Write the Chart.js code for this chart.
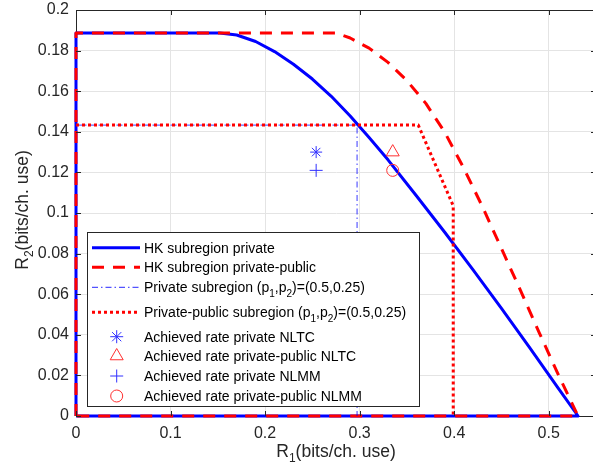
<!DOCTYPE html>
<html>
<head>
<meta charset="utf-8">
<script src="https://cdn.jsdelivr.net/npm/chart.js@4/dist/chart.umd.min.js"></script>
<style>
  html, body { margin: 0; padding: 0; background: #fff; overflow: hidden; }
  #wrap { position: relative; width: 593px; height: 470px; overflow: hidden; }
  #rateChart { display: block; }
</style>
</head>
<body>
<div id="wrap"><canvas id="rateChart" width="600" height="470"></canvas></div>
<script>
// HK rate region boundaries (R1, R2) in bits/channel use
const hkPrivR1 = [0, 0, 0.152, 0.17, 0.19, 0.21, 0.23, 0.25, 0.27, 0.29, 0.31, 0.33, 0.36, 0.39, 0.42, 0.45, 0.48, 0.51, 0.531, 0];
const hkPrivR2 = [0, 0.1887, 0.1887, 0.1877, 0.1845, 0.1795, 0.1733, 0.166, 0.1575, 0.1478, 0.1372, 0.1262, 0.1085, 0.0905, 0.072, 0.053, 0.0335, 0.0137, 0, 0];

const hkPubR1 = [0, 0, 0.275, 0.29, 0.31, 0.33, 0.35, 0.37, 0.39, 0.41, 0.43, 0.45, 0.47, 0.49, 0.51, 0.531, 0];
const hkPubR2 = [0, 0.1887, 0.1887, 0.1862, 0.1812, 0.1742, 0.1652, 0.154, 0.1398, 0.1222, 0.103, 0.0825, 0.062, 0.041, 0.0205, 0, 0];

// fixed power split (p1,p2) = (0.5,0.25)
const subPrivR1 = [0, 0.2973, 0.2973];
const subPrivR2 = [0.1433, 0.1433, 0];

const subPubR1 = [0, 0.362, 0.399, 0.399];
const subPubR2 = [0.1433, 0.1433, 0.1035, 0];

// achieved rates
const nltcPrivate = [0.254, 0.130];
const nltcPublic = [0.335, 0.130];
const nlmmPrivate = [0.254, 0.121];
const nlmmPublic = [0.335, 0.121];

const xTicks = [0, 0.1, 0.2, 0.3, 0.4, 0.5];
const yTicks = [0, 0.02, 0.04, 0.06, 0.08, 0.1, 0.12, 0.14, 0.16, 0.18, 0.2];

const FONT = 'Liberation Sans, Arial, Helvetica, sans-serif';
const AXIS = '#262626';

function toPoints(xs, ys) {
  return xs.map((x, i) => ({ x: x, y: ys[i] }));
}

function lineSet(label, xs, ys, color, width, dash, order) {
  return {
    label: label,
    data: toPoints(xs, ys),
    showLine: true,
    borderColor: color,
    borderWidth: width,
    borderDash: dash,
    borderCapStyle: 'butt',
    borderJoinStyle: 'round',
    pointRadius: 0,
    fill: false,
    tension: 0,
    clip: 6,
    order: order
  };
}

function markerSet(label, pt, style, color, radius) {
  return {
    label: label,
    data: [{ x: pt[0], y: pt[1] }],
    showLine: false,
    pointStyle: style,
    pointRadius: radius,
    pointBorderColor: color,
    pointBackgroundColor: 'rgba(0,0,0,0)',
    pointBorderWidth: 1,
    order: 0
  };
}

// legend rows: text pieces, [string, isSubscript]
const legendRows = [
  { kind: 'line', color: '#0000ff', width: 3, dash: [], y: 247.7, text: [['HK subregion private', false]] },
  { kind: 'line', color: '#ff0000', width: 3, dash: [12, 9], y: 267.3, text: [['HK subregion private-public', false]] },
  { kind: 'line', color: 'rgba(0,0,255,0.85)', width: 1, dash: [6, 3, 1.5, 3], y: 287.3,
    text: [['Private subregion (p', false], ['1', true], [',p', false], ['2', true], [')=(0.5,0.25)', false]] },
  { kind: 'line', color: '#ff0000', width: 3, dash: [3, 3], y: 312.3,
    text: [['Private-public subregion (p', false], ['1', true], [',p', false], ['2', true], [')=(0.5,0.25)', false]] },
  { kind: 'star', color: '#3030ff', y: 336.7, text: [['Achieved rate private NLTC', false]] },
  { kind: 'triangle', color: '#ff3030', y: 356, text: [['Achieved rate private-public NLTC', false]] },
  { kind: 'cross', color: '#3030ff', y: 376, text: [['Achieved rate private NLMM', false]] },
  { kind: 'circle', color: '#ff3030', y: 396, text: [['Achieved rate private-public NLMM', false]] }
];

// draws text with subscript pieces starting at x, returns its width
function drawRich(ctx, parts, x, y, size, measureOnly) {
  let cx = x;
  parts.forEach(([str, sub]) => {
    const fs = sub ? Math.round(size * 0.7) : size;
    ctx.font = fs + 'px ' + FONT;
    if (!measureOnly) ctx.fillText(str, cx, sub ? y + size * 0.3 : y);
    cx += ctx.measureText(str).width;
  });
  return cx - x;
}

const framePlugin = {
  id: 'frame',
  afterDatasetsDraw(chart) {
    const ctx = chart.ctx;
    const a = chart.chartArea;
    const xs = chart.scales.x, ys = chart.scales.y;
    ctx.save();
    ctx.strokeStyle = AXIS;
    ctx.lineWidth = 1;
    ctx.beginPath();
    ctx.moveTo(a.left, a.top + 0.5);
    ctx.lineTo(a.right, a.top + 0.5);
    ctx.moveTo(a.right - 0.5, a.top);
    ctx.lineTo(a.right - 0.5, a.bottom);
    // inward tick marks
    xTicks.forEach(v => {
      const px = Math.round(xs.getPixelForValue(v)) + 0.5;
      ctx.moveTo(px, a.bottom); ctx.lineTo(px, a.bottom - 5);
      ctx.moveTo(px, a.top); ctx.lineTo(px, a.top + 5);
    });
    yTicks.forEach(v => {
      const py = Math.round(ys.getPixelForValue(v)) + 0.5;
      ctx.moveTo(a.left, py); ctx.lineTo(a.left + 5, py);
      ctx.moveTo(a.right, py); ctx.lineTo(a.right - 5, py);
    });
    ctx.stroke();

    // legend box
    const bx = 87.5, by = 232.5, bw = 332, bh = 174;
    ctx.fillStyle = '#ffffff';
    ctx.fillRect(bx, by, bw, bh);
    ctx.strokeStyle = AXIS;
    ctx.strokeRect(bx, by, bw, bh);
    legendRows.forEach(row => {
      ctx.save();
      if (row.kind === 'line') {
        ctx.strokeStyle = row.color;
        ctx.lineWidth = row.width;
        ctx.setLineDash(row.dash);
        ctx.beginPath();
        ctx.moveTo(92, row.y);
        ctx.lineTo(140, row.y);
        ctx.stroke();
      } else {
        const r = row.kind === 'triangle' ? 7.5 : (row.kind === 'circle' ? 6 : 6.5);
        ctx.strokeStyle = row.color;
        ctx.fillStyle = 'rgba(0,0,0,0)';
        ctx.lineWidth = 1;
        Chart.helpers.drawPoint(ctx, { pointStyle: row.kind, radius: r, borderWidth: 1, rotation: 0 }, 116.7, row.y);
      }
      ctx.restore();
      ctx.fillStyle = '#000000';
      ctx.textBaseline = 'alphabetic';
      ctx.textAlign = 'left';
      drawRich(ctx, row.text, 144, row.y + 5, 14);
    });

    // axis titles with subscripts
    ctx.fillStyle = AXIS;
    const xt = [['R', false], ['1', true], ['(bits/ch. use)', false]];
    const xw = drawRich(ctx, xt, 0, 0, 17.5, true);
    drawRich(ctx, xt, 336 - xw / 2, 457, 17.5);
    const yt = [['R', false], ['2', true], ['(bits/ch. use)', false]];
    const yw = drawRich(ctx, yt, 0, 0, 17.5, true);
    ctx.translate(28, 210);
    ctx.rotate(-Math.PI / 2);
    drawRich(ctx, yt, -yw / 2, 0, 17.5);
    ctx.restore();
  }
};

const datasets = [
  lineSet('HK subregion private', hkPrivR1, hkPrivR2, '#0000ff', 3, [], 4),
  lineSet('HK subregion private-public', hkPubR1, hkPubR2, '#ff0000', 3, [12, 9], 3),
  lineSet('Private subregion', subPrivR1, subPrivR2, 'rgba(0,0,255,0.6)', 1.3, [6, 3, 1.5, 3], 2),
  lineSet('Private-public subregion', subPubR1, subPubR2, '#ff0000', 3, [3, 3], 1),
  markerSet('Achieved rate private NLTC', nltcPrivate, 'star', '#3030ff', 6),
  markerSet('Achieved rate private-public NLTC', nltcPublic, 'triangle', '#ff3030', 7.5),
  markerSet('Achieved rate private NLMM', nlmmPrivate, 'cross', '#3030ff', 6.5),
  markerSet('Achieved rate private-public NLMM', nlmmPublic, 'circle', '#ff3030', 6)
];

// plot box: x 76..596 (right edge just past the visible 593px), y 10..416
new Chart(document.getElementById('rateChart'), {
  type: 'scatter',
  data: { datasets: datasets },
  options: {
    responsive: false,
    animation: false,
    layout: { autoPadding: false, padding: { top: 10, right: 4, left: 0, bottom: 0 } },
    plugins: { legend: { display: false }, tooltip: { enabled: false } },
    scales: {
      x: {
        type: 'linear',
        min: 0,
        max: 0.55,
        afterBuildTicks: s => { s.ticks = xTicks.map(v => ({ value: v })); },
        afterFit: s => { s.height = 54; s.paddingLeft = 0; s.paddingRight = 0; },
        grid: { color: '#e4e4e4', lineWidth: 1, drawTicks: false },
        border: { color: AXIS, width: 1 },
        ticks: {
          color: AXIS,
          padding: 8,
          maxRotation: 0,
          font: { family: FONT, size: 16 },
          callback: v => String(+v.toFixed(3))
        }
      },
      y: {
        type: 'linear',
        min: 0,
        max: 0.2,
        afterBuildTicks: s => { s.ticks = yTicks.map(v => ({ value: v })); },
        afterFit: s => { s.width = 76; s.paddingTop = 0; s.paddingBottom = 0; },
        grid: { color: '#e4e4e4', lineWidth: 1, drawTicks: false },
        border: { color: AXIS, width: 1 },
        ticks: {
          color: AXIS,
          padding: 7,
          font: { family: FONT, size: 16 },
          callback: v => String(+v.toFixed(3))
        }
      }
    }
  },
  plugins: [framePlugin]
});
</script>
</body>
</html>
